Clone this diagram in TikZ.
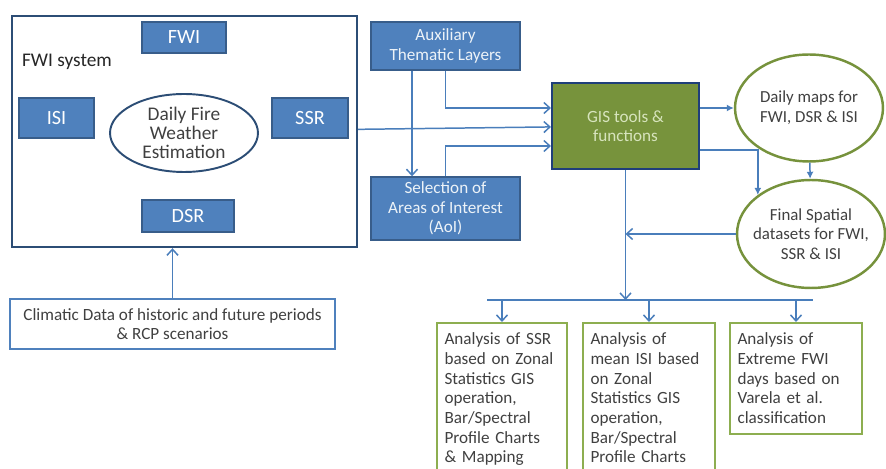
\documentclass[tikz,border=0pt]{standalone}
\usepackage{fontspec}
\setmainfont{Carlito}
\usetikzlibrary{arrows.meta, shapes.geometric}

\definecolor{boxblue}{HTML}{4F81BD}
\definecolor{edgeblue}{HTML}{385D8A}
\definecolor{darkblue}{HTML}{2C4D75}
\definecolor{lineblue}{HTML}{4A7EBB}
\definecolor{gisgreen}{HTML}{77933C}
\definecolor{gisedge}{HTML}{1F3F7A}
\definecolor{gistext}{HTML}{D7E4BD}
\definecolor{ovalgreen}{HTML}{76923C}
\definecolor{outgreen}{HTML}{8DAE50}
\definecolor{textgray}{HTML}{404040}

\begin{document}
\begin{tikzpicture}[
x=0.02cm, y=-0.02cm,
font=\fontsize{9.75}{11.2}\selectfont, text=textgray,
bluebox/.style={draw=edgeblue, fill=boxblue, line width=0.8pt, text=white, align=center, inner sep=0pt},
tagbox/.style={bluebox, font=\fontsize{11.5}{13}\selectfont},
oval/.style={draw=ovalgreen, line width=1.4pt, ellipse, align=center, inner sep=-0.2cm},
outbox/.style={draw=outgreen, line width=1.1pt, anchor=north, align=left, inner xsep=0.15cm, inner ysep=0.2cm, text width=2.3cm},
arrow/.style={draw=lineblue, line width=0.85pt, -{Straight Barb[length=1.2mm, width=2.2mm]}},
fillarrow/.style={draw=lineblue, line width=0.85pt, -{Latex[length=1.4mm, width=1.4mm]}}
]
\useasboundingbox (0,0) rectangle (886,469);

% FWI system block
\node[draw=darkblue, line width=1.4pt, minimum width=6.9cm, minimum height=4.62cm] (fwisys) at (184.5,131.5) {};
\node[font=\fontsize{11}{13}\selectfont, text=black!85] (fwilabel) at (67,62) {FWI system};

\node[tagbox, minimum width=1.68cm, minimum height=0.62cm] (fwi) at (184,37.5) {FWI};
\node[tagbox, minimum width=1.5cm, minimum height=0.8cm] (isi) at (56.5,118) {ISI};
\node[tagbox, minimum width=1.52cm, minimum height=0.8cm] (ssr) at (310,118) {SSR};
\node[tagbox, minimum width=1.84cm, minimum height=0.64cm] (dsr) at (188,216) {DSR};

\node[oval, draw=darkblue, line width=1.1pt, font=\fontsize{11}{11}\selectfont, minimum width=2.96cm, minimum height=1.56cm] (dfw) at (184,133)
{Daily Fire\\
Weather\\
Estimation};

\node[draw=boxblue, line width=0.9pt, align=center, minimum width=6.5cm, minimum height=1cm] (climatic) at (172.5,324)
{Climatic Data of historic and future periods\\
\& RCP scenarios};

% GIS part
\node[bluebox, text=white!90!boxblue, minimum width=2.98cm, minimum height=0.96cm] (aux) at (445.5,46)
{Auxiliary\\
Thematic Layers};

\node[bluebox, text=white!90!boxblue, minimum width=2.98cm, minimum height=1.26cm] (aoi) at (445.5,208.5)
{Selection of\\
Areas of Interest\\
(AoI)};

\node[draw=gisedge, fill=gisgreen, line width=1.2pt, text=gistext, align=center, minimum width=2.94cm, minimum height=1.72cm] (gis) at (625.5,126)
{GIS tools \&\\
functions};

\node[oval, font=\fontsize{9.6}{11.2}\selectfont, minimum width=2.96cm, minimum height=2.14cm] (daily) at (809,108)
{Daily maps for\\
FWI, DSR \& ISI};

\node[oval, font=\fontsize{9.6}{11.2}\selectfont, minimum width=2.96cm, minimum height=2.16cm] (final) at (811,234)
{Final Spatial\\
datasets for FWI,\\
SSR \& ISI};

% analysis outputs
\node[outbox] (ssrout) at (502,322)
{Analysis of SSR\\
based on Zonal\\
Statistics GIS\\
operation,\\
Bar/Spectral\\
Profile Charts\\
\& Mapping};

\node[outbox, text width=2.34cm] (isiout) at (649,322)
{Analysis of\\
mean ISI based\\
on Zonal\\
Statistics GIS\\
operation,\\
Bar/Spectral\\
Profile Charts};

\node[outbox, text width=2.34cm] (fwiout) at (796,322)
{Analysis of\\
Extreme FWI\\
days based on\\
Varela et al.\\
classification};

\coordinate (busl) at (487,300);
\coordinate (busr) at (813,300);

% connectors
\draw[arrow] (climatic.north) -- (climatic.north |- fwisys.south);
\draw[arrow] (fwisys) -- (gis);
\draw[arrow] ([xshift=-0.67cm]aux.south) -- ([xshift=-0.67cm]aoi.north);
\draw[arrow] (aux.south) |- ([yshift=0.36cm]gis.west);
\draw[arrow] (aoi.north) |- ([yshift=-0.4cm]gis.west);
\draw[fillarrow] (gis.east |- daily.west) -- (daily.west);
\draw[fillarrow] ([yshift=-0.48cm]gis.east) -| (final.north west);
\draw[fillarrow] (daily) -- (final);
\draw[arrow] (final.west) -- (final.west -| gis.south);
\draw[arrow] (gis.south) -- (gis.south |- busl);
\draw[draw=lineblue, line width=0.85pt] (busl) -- (busr);
\draw[arrow] (busl -| ssrout.north) -- (ssrout.north);
\draw[arrow] (busl -| isiout.north) -- (isiout.north);
\draw[arrow] (busl -| fwiout.north) -- (fwiout.north);

\end{tikzpicture}
\end{document}
